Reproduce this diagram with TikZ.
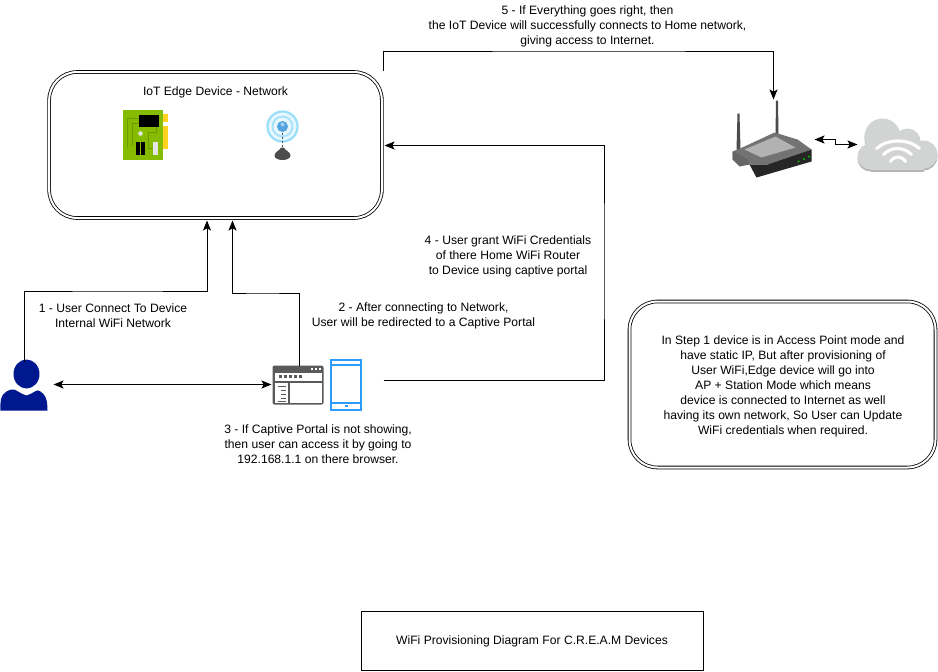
\documentclass[tikz,border=0pt]{standalone}
\usepackage{fontspec}
\setmainfont{Liberation Sans}
\usetikzlibrary{arrows.meta,calc}
\definecolor{userblue}{HTML}{00188F}
\definecolor{phoneblue}{HTML}{2E9BFF}
\definecolor{wingray}{HTML}{5A5A5A}
\definecolor{cloudgray}{HTML}{D2D3D3}
\definecolor{cloudedge}{HTML}{B4B5B5}
\definecolor{pcbgreen}{HTML}{86BC00}
\definecolor{pcbdark}{HTML}{6E9A00}
\definecolor{pcbgold}{HTML}{FFD21F}
\tikzset{
  lbl/.style={align=center,inner sep=0pt,font=\fontsize{9.1}{11.2}\selectfont,text=black},
  conn/.style={draw=black,line width=0.75pt,-{Stealth[length=7.5pt,width=6pt,inset=1.6pt]}},
  conn2/.style={draw=black,line width=0.75pt,{Stealth[length=7.5pt,width=6pt,inset=1.6pt]}-{Stealth[length=7.5pt,width=6pt,inset=1.6pt]}},
  dblbox/.style={draw=black,rounded corners=#1,inner sep=0pt,double,double distance=1.5pt,line width=0.6pt},
  cloudshape/.pic={
    \fill[pic actions] (883,137) circle (18);
    \fill[pic actions] (908,142) circle (13);
    \fill[pic actions] (924,155) circle (14);
    \fill[pic actions] (871,157) circle (13);
    \fill[pic actions] (871,146) rectangle (924,170);
  },
}
\begin{document}
\begin{tikzpicture}[x=0.75pt,y=-0.75pt]
\useasboundingbox[fill=white] (0.5,0.5) rectangle (938.5,671.5);
% boxes
\node[dblbox=21pt,minimum width=249.5pt,minimum height=109.5pt] (edge) at (216,145.5) {};
\node[dblbox=21pt,minimum width=229.5pt,minimum height=124.5pt] (note) at (783,385) {};
\node[draw=black,line width=0.75pt,minimum width=256.5pt,minimum height=44.25pt,inner sep=0pt] (title) at (533,641) {};
% anchors of icons
\coordinate (user) at (25,362);
\coordinate (userR) at (54,385);
\coordinate (browserT) at (299.5,366);
\coordinate (browserL) at (272,385);
\coordinate (phoneR) at (384,380.5);
\coordinate (edgeA) at (207.5,221);
\coordinate (edgeB) at (233,221);
\coordinate (edgeC) at (385,146);
\coordinate (edgeD) at (384,71);
\coordinate (routerT) at (774,100);
\coordinate (routerR) at (815,140);
\coordinate (cloudL) at (858,145);
% user
\fill[userblue] (27,374.5) ellipse (13 and 14.5);
\fill[userblue] (1,411) -- (1,404) .. controls (1,397) and (4,392) .. (12,390) .. controls (16,389) and (18,393) .. (27,396) .. controls (36,393) and (37,389) .. (41,392) .. controls (46,395) and (48,400) .. (48,411) -- cycle;
% browser window
\fill[wingray,rounded corners=1.5pt] (273,366) rectangle (324,405);
\fill[white] (275,373) rectangle (322,381);
\fill[white] (275,383) rectangle (288,403);
\fill[white] (290,383) rectangle (322,403);
\foreach \x in {311,315,319} \fill[white] (\x,368) rectangle +(2.5,2.5);
\foreach \x in {279,284,289,294,299} \fill[wingray] (\x,375.5) rectangle +(3,3);
\foreach \a/\b/\y in {278/286/386,281/286/390,281/286/394,281/286/398,278/286/401}
  \fill[wingray] (\a,\y) rectangle (\b,\y+1);
% phone
\draw[phoneblue,line width=1.7pt] (331.5,360.5) rectangle (361.5,410.5);
\draw[phoneblue,line width=1.5pt] (331.5,365.5) -- (361.5,365.5);
\draw[phoneblue,line width=1.5pt] (331.5,403) -- (361.5,403);
\fill[phoneblue] (345,405.5) rectangle (348,407.5);
% pcb
\fill[pcbgold] (163,114) rectangle (168,122);
\fill[pcbgold] (163,126) rectangle (168,149);
\fill[pcbgreen] (123,110) rectangle (163,160);
\draw[pcbdark,line width=1pt] (128,148) -- (128,119) -- (140,119);
\draw[pcbdark,line width=1pt] (133,146) -- (133,124) -- (139,124);
\draw[pcbdark,line width=1pt] (157,126) -- (157,133) -- (149,133) -- (149,149) -- (153,149);
\fill[black] (139,115) rectangle (159,127);
\fill[black] (136,142) rectangle (140,155);
\fill[black] (141.5,142) rectangle (145,155);
\fill[white!90!black] (153,142) rectangle (158,155);
\fill[white!90!black] (141,134) circle (2.3);
% wifi antenna icon
\fill[cyan!10] (283,127) circle (16);
\draw[cyan!40,line width=1.6pt] (283,127) circle (15);
\draw[cyan!35,line width=1.4pt] (283,127) circle (10);
\fill[cyan!70!blue!70] (283,127) circle (5.5);
\fill[white,opacity=.5] (283,125) circle (2);
\draw[black!70,line width=1.4pt,dash pattern=on 2pt off 1pt] (283,133) -- (283,149);
\fill[black!70] (281.5,148) -- (284.5,148) .. controls (285,151) and (291,152) .. (291,156) .. controls (291,162) and (275,162) .. (275,156) .. controls (275,152) and (281,151) .. (281.5,148) -- cycle;
% router
\fill[black!70] (738,114) -- (740,114) -- (741,150) -- (737,150) -- cycle;
\fill[black!70] (776.5,101) -- (778.5,101) -- (779,135) -- (776,135) -- cycle;
\fill[black!55] (733,152) -- (745,147) -- (775,133) -- (798,140) -- (812,150) -- (768,165) -- (750,165) -- (740,165) -- (733,160) -- cycle;
\fill[black!30] (745,150) -- (776,137) -- (796,148) -- (762,158) -- cycle;
\fill[black!85] (750,165) -- (768,165) -- (812,150) -- (812,162) -- (757,178) -- cycle;
\fill[black!60] (733,152) -- (748,160) -- (750,165) -- (740,167) -- (733,160) -- cycle;
\foreach \p in {(799,162),(804.5,159.5),(809.5,157)} \fill[green!75!black] \p circle (1.2);
% cloud
\pic[fill=cloudedge] at (0,2) {cloudshape};
\pic[fill=cloudgray] at (0,0) {cloudshape};
\draw[white,line width=2.3pt,line cap=round] (877,149) .. controls (888,139) and (909,139) .. (920,149);
\draw[white,line width=2.3pt,line cap=round] (884,155) .. controls (892,147) and (904,147) .. (912,155);
\draw[white,line width=2.3pt,line cap=round] (891,162) .. controls (895,156) and (902,156) .. (906,162);
% connectors
\draw[conn] (user) |- (120,291.5) -| (edgeA);
\draw[conn] (browserT) |- (260,293.5) -| (edgeB);
\draw[conn] (phoneR) -| (604.5,260) |- (edgeC);
\draw[conn] (edgeD) |- (600,51.5) -| (routerT);
\draw[conn2] (userR) -- (browserL);
\draw[conn2] (routerR) -- (836,140) -- (836,145) -- (cloudL);
% labels
\node[lbl] (t5) at (588,27) {5 - If Everything goes right, then\\the IoT Device will successfully connects to Home network,\\giving access to Internet.};
\node[lbl] (t0) at (216,92.5) {IoT Edge Device - Network};
\node[lbl] (t1) at (113.5,316.5) {1 - User Connect To Device\\Internal WiFi Network};
\node[lbl] (t2) at (424,316.5) {2 - After connecting to Network,\\User will be redirected to a Captive Portal};
\node[lbl] (t4) at (508.5,257) {4 - User grant WiFi Credentials\\of there Home WiFi Router\\to Device using captive portal};
\node[lbl] (t3) at (318.5,445) {3 - If Captive Portal is not showing,\\then user can access it by going to\\192.168.1.1 on there browser.};
\node[lbl] (tn) at (783.5,387) {In Step 1 device is in Access Point mode and\\have static IP, But after provisioning of\\User WiFi,Edge device will go into\\AP + Station Mode which means\\device is connected to Internet as well\\having its own network, So User can Update\\WiFi credentials when required.};
\node[lbl] (tt) at (532.5,642) {WiFi Provisioning Diagram For C.R.E.A.M Devices};
\end{tikzpicture}
\end{document}
